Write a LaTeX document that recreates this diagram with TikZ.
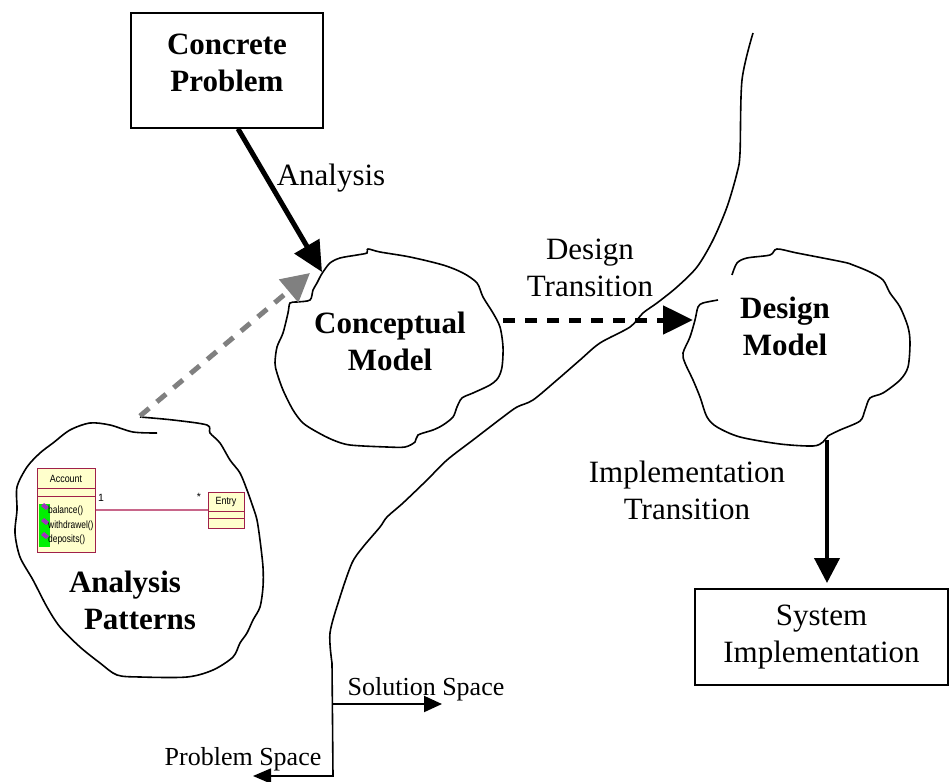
\documentclass[tikz,border=0pt]{standalone}
\usepackage{fontspec}
\setmainfont{Liberation Serif}
\newfontfamily\umlfont{Liberation Sans}
\usetikzlibrary{arrows.meta,positioning}

\definecolor{umlred}{HTML}{A0204A}
\definecolor{umlfill}{HTML}{FFFFCC}
\definecolor{umlline}{HTML}{C8668A}
\definecolor{umlgreen}{HTML}{00F000}
\definecolor{umlicon}{HTML}{A030C0}
\definecolor{hintgray}{HTML}{808080}

\tikzset{
  bigtext/.style={font=\fontsize{31bp}{37bp}\selectfont, align=center, inner sep=0pt},
  boldtext/.style={font=\fontsize{31bp}{37bp}\selectfont\bfseries, align=center, inner sep=0pt},
  smalltext/.style={font=\fontsize{26bp}{30bp}\selectfont, inner sep=0pt},
  plainbox/.style={draw, line width=1.5bp, inner sep=0pt},
  blob/.style={line width=1.6bp, tension=0.5},
  bigarrow/.style={line width=5bp, -{Triangle[length=30bp,width=28bp]}},
  thinarrow/.style={line width=2bp, -{Triangle[length=18bp,width=16bp]}},
  umlbox/.style={draw=umlred, fill=umlfill, line width=1bp, inner sep=0pt},
  umltext/.style={font=\umlfont\fontsize{10.5bp}{12bp}\selectfont, inner sep=0pt},
}

\begin{document}
\begin{tikzpicture}[x=1bp, y=-1bp]
  \useasboundingbox (0,0) rectangle (949,782);

  % Concrete Problem
  \node[plainbox, minimum width=192bp, minimum height=115bp] (cprob) at (227,70.5) {};
  \node[boldtext] (cprobtext) at (227,63) {Concrete\\Problem};

  % Conceptual Model (blob)
  \draw[blob] plot[smooth cycle] coordinates {
    (323,272) (330,263) (340,258) (357,255) (367,253) (368,249) (380,252)
    (410,257) (443,265) (463,273) (477,283) (483,297) (493,313) (500,327)
    (503,347) (502,367) (498,378) (490,385) (473,393) (462,398) (457,407)
    (453,417) (443,425) (433,430) (418,435) (415,442) (405,447) (387,447)
    (350,445) (333,440) (317,432) (303,423) (293,410) (283,390) (277,373)
    (275,363) (277,347) (283,333) (288,313) (290,303) (297,302) (310,300)
    (313,290) (317,283) (320,277)};
  \node[boldtext] (cmodel) at (390,341) {Conceptual\\Model};
  \coordinate (cmtip) at (322,272);
  \coordinate (cmnotch) at (310,273);
  \coordinate (cmright) at (503,320);

  % Design Model (blob, open at top left)
  \draw[blob] plot[smooth] coordinates {
    (718,300) (703,303) (698,307) (695,320) (690,337) (683,353) (685,363)
    (693,380) (700,397) (707,417) (717,427) (740,437) (780,444) (813,446)
    (823,442) (828,436) (840,430) (860,421) (865,410) (870,398) (883,393)
    (900,380) (908,367) (910,343) (908,327) (900,307) (890,293) (883,280)
    (870,272) (853,265) (843,262) (797,253) (777,249) (770,255) (747,258)
    (737,263) (732,275)};
  \node[boldtext] (dmodel) at (785,326) {Design\\Model};
  \coordinate (dmleft) at (693,320);
  \coordinate (dmbottom) at (827,440);

  % System Implementation
  \node[plainbox, bigtext, minimum width=253bp, minimum height=96bp] (sysimp) at (821.5,637) {System\\Implementation};
  \coordinate (sitop) at (827,583);

  % Analysis Patterns (blob)
  \draw[blob] plot[smooth] coordinates {
    (140,417) (173,420) (207,425) (210,433) (220,443) (230,460) (240,473)
    (247,490) (253,507) (257,520) (260,540) (263,567) (263,587) (260,607)
    (253,620) (247,633) (240,643) (233,657) (213,670) (187,677) (140,677)
    (117,675) (100,663) (80,647) (60,627) (47,607) (33,580) (20,557)
    (15,533) (17,510) (17,487) (27,467) (40,453) (53,443) (70,430)
    (90,423) (110,425) (133,432) (157,433)};
  \node[boldtext, align=center] (apat) at (132.5,600) {Analysis\hspace*{15bp}\\\hspace*{15bp}Patterns};
  \coordinate (aptop) at (140,416);

  % UML classes
  \node[umlbox, minimum width=58bp, minimum height=84bp] (acct) at (66,510) {};
  \draw[umlred, line width=1bp] (37,488) -- (95,488) (37,496) -- (95,496);
  \fill[umlgreen] (39,504) rectangle (50,547);
  \node[umltext] (acctname) at (66,479) {\scalebox{0.85}[1]{Account}};
  \foreach \yy/\op in {511/balance(), 526/withdrawel(), 540/deposits()} {
    \fill[umlicon] (44,\yy-8) -- (49,\yy-4) -- (46,\yy-1) -- (41,\yy-5) -- cycle;
    \node[umltext, anchor=west] at (48,\yy) {\scalebox{0.8}[1]{\op}};
  }
  \node[umlbox, minimum width=36bp, minimum height=36bp] (entry) at (226,510) {};
  \draw[umlred, line width=1bp] (208,511) -- (244,511) (208,518) -- (244,518);
  \node[umltext] (entryname) at (226,502) {\scalebox{0.85}[1]{Entry}};
  \draw[umlline, line width=1.3bp] (acct.east) -- (entry.west);
  \node[umltext] (mone) at (101,498) {1};
  \node[umltext] (mmany) at (199,497) {*};

  % Analysis
  \draw[bigarrow] ([xshift=11bp]cprob.south) -- (cmtip);
  \node[bigtext] (analysis) at (331,178) {Analysis};

  % Patterns feed the conceptual model
  \draw[bigarrow, hintgray, dash pattern=on 12bp off 10bp,
        -{Triangle[length=28bp,width=29bp]}] (aptop) -- (cmnotch);

  % Design Transition
  \draw[bigarrow, dash pattern=on 12bp off 10bp] (cmright) -- (dmleft);
  \node[bigtext] (dtrans) at (590,268) {Design\\Transition};

  % Implementation Transition
  \draw[line width=4bp, -{Triangle[length=25bp,width=25bp]}] (dmbottom) -- (sitop);
  \node[bigtext] (itrans) at (687,490) {Implementation\\Transition};

  % Problem space / solution space border
  \coordinate (pstip) at (253,776);
  \draw[line width=1.6bp, -{Triangle[length=18bp,width=15bp]}]
    plot[smooth, tension=0.5] coordinates {
      (753,33) (742,80) (740,153) (737,173) (727,207) (713,240) (697,267)
      (677,287) (657,303) (643,313) (630,327) (600,343) (580,360) (557,380)
      (533,400) (517,407) (503,417) (473,440) (447,460) (427,480) (403,503)
      (387,517) (380,527) (363,547) (352,563) (340,597) (330,633) (332,663)}
    -- (333,776) -- (pstip);
  \coordinate (solstart) at (333,704);
  \coordinate (soltip) at (442,704);
  \draw[thinarrow] (solstart) -- (soltip);
  \node[smalltext] (solspace) at (426,689) {Solution Space};
  \node[smalltext] (probspace) at (243,759) {Problem Space};
\end{tikzpicture}
\end{document}
